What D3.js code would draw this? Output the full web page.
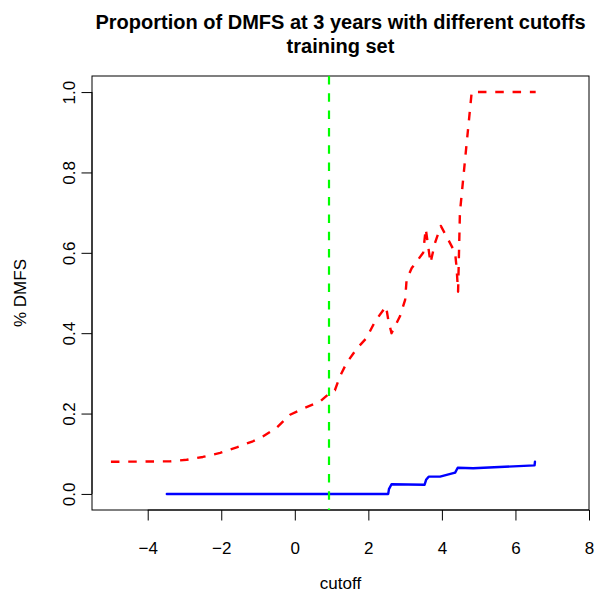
<!DOCTYPE html>
<html>
<head>
<meta charset="utf-8">
<script src="https://cdn.jsdelivr.net/npm/d3@7"></script>
<style>
  html, body { margin: 0; padding: 0; background: #fff; }
  svg { display: block; }
  text { font-family: "Liberation Sans", Arial, Helvetica, sans-serif; fill: #000; }
</style>
</head>
<body>
<svg id="chart" width="596" height="595"></svg>
<script>
// Tick positions
const xTicks = [-4, -2, 0, 2, 4, 6, 8];
const yTicks = [0.0, 0.2, 0.4, 0.6, 0.8, 1.0];

// Upper series (red, dashed): proportion by cutoff
const redCutoff = [-5.00, -3.40, -2.94, -2.50, -2.03, -1.58, -1.14, -0.87, -0.49, -0.13,
                   0.22, 0.69, 0.96, 1.09, 1.23, 1.41, 1.68, 1.95, 2.18, 2.48,
                   2.54, 2.63, 2.86, 3.00, 3.04, 3.18, 3.49, 3.56, 3.69, 3.81,
                   3.97, 4.20, 4.36, 4.40, 4.44, 4.49, 4.63, 4.81, 6.55];
const redProp   = [0.080, 0.081, 0.085, 0.092, 0.102, 0.116, 0.131, 0.143, 0.165, 0.197,
                   0.212, 0.230, 0.252, 0.258, 0.293, 0.326, 0.361, 0.388, 0.429, 0.467,
                   0.434, 0.400, 0.442, 0.483, 0.533, 0.562, 0.600, 0.660, 0.575, 0.624,
                   0.667, 0.628, 0.600, 0.562, 0.503, 0.700, 0.832, 1.000, 1.000];

// Lower series (blue, solid)
const blueCutoff = [-3.48, 2.54, 2.56, 2.63, 3.53, 3.57, 3.64, 3.95, 4.36, 4.43, 4.85, 6.52, 6.53];
const blueProp   = [0.000, 0.000, 0.012, 0.024, 0.023, 0.035, 0.043, 0.043, 0.053, 0.065, 0.064, 0.071, 0.080];

// Selected cutoff (green vertical line)
const chosenCutoff = 0.93;

const titleLines = ["Proportion of DMFS at 3 years with different cutoffs", "training set"];
const xLabel = "cutoff";
const yLabel = "% DMFS";

const svg = d3.select("#chart");
const plotLeft = 92, plotRight = 589, plotTop = 76, plotBottom = 510;
const labelSize = "17px";

const x = d3.scaleLinear().domain([-5.515, 8]).range([plotLeft, plotRight]);
const y = d3.scaleLinear().domain([-0.04, 1.04]).range([plotBottom, plotTop]);

// Plot frame
svg.append("rect")
  .attr("x", plotLeft).attr("y", plotTop)
  .attr("width", plotRight - plotLeft).attr("height", plotBottom - plotTop)
  .attr("fill", "none").attr("stroke", "#000").attr("stroke-width", 1);

// X axis
const xAxis = svg.append("g")
  .attr("transform", `translate(0,${plotBottom})`)
  .call(d3.axisBottom(x).tickValues(xTicks).tickSize(10.5).tickSizeOuter(0));
xAxis.select(".domain").remove();
xAxis.append("line")
  .attr("x1", x(xTicks[0])).attr("x2", x(xTicks[xTicks.length - 1]))
  .attr("stroke", "#000");
xAxis.selectAll(".tick line").attr("stroke", "#000");
xAxis.selectAll(".tick text")
  .attr("y", 43.5).attr("dy", 0)
  .style("font-size", labelSize);

// Y axis
const yAxis = svg.append("g")
  .attr("transform", `translate(${plotLeft},0)`)
  .call(d3.axisLeft(y).tickValues(yTicks).tickSize(10.5).tickSizeOuter(0).tickFormat(d3.format(".1f")));
yAxis.select(".domain").remove();
yAxis.append("line")
  .attr("y1", y(yTicks[0])).attr("y2", y(yTicks[yTicks.length - 1]))
  .attr("stroke", "#000");
yAxis.selectAll(".tick line").attr("stroke", "#000");
yAxis.selectAll(".tick text")
  .attr("x", 0).attr("dy", 0).attr("y", 0)
  .attr("transform", "translate(-17.5,0) rotate(-90)")
  .attr("text-anchor", "middle")
  .style("font-size", labelSize);

// Series
const line = d3.line().x(d => x(d[0])).y(d => y(d[1]));

svg.append("path")
  .datum(blueCutoff.map((c, i) => [c, blueProp[i]]))
  .attr("d", line)
  .attr("fill", "none").attr("stroke", "#0000FF")
  .attr("stroke-width", 2.4).attr("stroke-linejoin", "round").attr("stroke-linecap", "round");

svg.append("path")
  .datum(redCutoff.map((c, i) => [c, redProp[i]]))
  .attr("d", line)
  .attr("fill", "none").attr("stroke", "#FF0000")
  .attr("stroke-width", 2.4).attr("stroke-dasharray", "8.5,8.8")
  .attr("stroke-linejoin", "round");

svg.append("line")
  .attr("x1", x(chosenCutoff)).attr("x2", x(chosenCutoff))
  .attr("y1", plotTop).attr("y2", plotBottom)
  .attr("stroke", "#00FF00").attr("stroke-width", 2.2)
  .attr("stroke-dasharray", "8.5,8.8");

// Titles
const cx = (plotLeft + plotRight) / 2;
svg.append("text").attr("x", cx).attr("y", 29)
  .attr("text-anchor", "middle").style("font-weight", "bold").style("font-size", "20px")
  .text(titleLines[0]);
svg.append("text").attr("x", cx).attr("y", 53)
  .attr("text-anchor", "middle").style("font-weight", "bold").style("font-size", "20px")
  .text(titleLines[1]);

svg.append("text").attr("x", cx).attr("y", 589)
  .attr("text-anchor", "middle").style("font-size", labelSize)
  .text(xLabel);

svg.append("text")
  .attr("transform", `translate(26,${(plotTop + plotBottom) / 2}) rotate(-90)`)
  .attr("text-anchor", "middle").style("font-size", labelSize)
  .text(yLabel);
</script>
</body>
</html>
